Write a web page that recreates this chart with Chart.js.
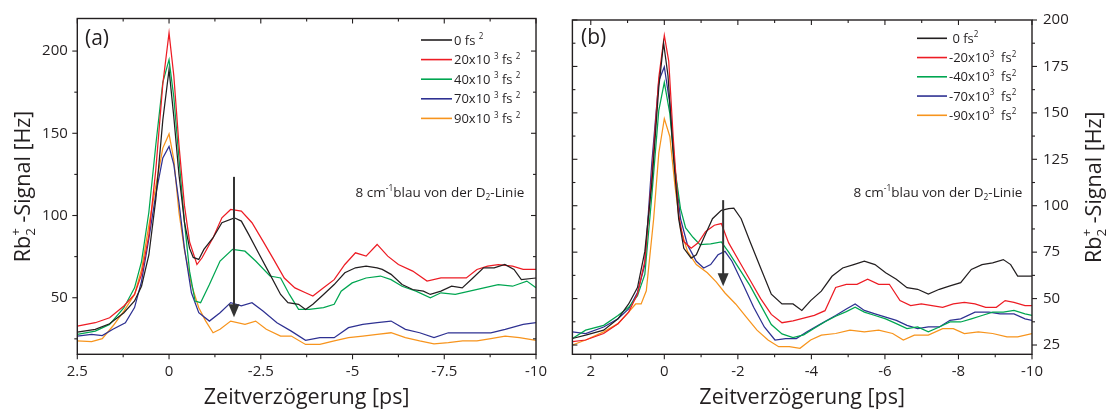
<!DOCTYPE html>
<html><head><meta charset="utf-8">
<script src="https://cdn.jsdelivr.net/npm/chart.js@4.4.0/dist/chart.umd.min.js"></script>
<style>
html,body{margin:0;padding:0;background:#fff;}
#wrap{position:relative;width:1110px;height:412px;overflow:hidden;}
canvas{position:absolute;top:0;width:555px;height:412px;}
#ca{left:0}
#cb{left:555px}
</style></head><body>
<div id="wrap"><canvas id="ca" width="555" height="412"></canvas><canvas id="cb" width="555" height="412"></canvas></div>
<script>
// ---------- Panel (a) data: delay [ps] / signal [Hz] ----------
const aT_black = [2.5,2.01,1.62,1.23,0.94,0.75,0.55,0.36,0.17,0,-0.13,-0.27,-0.42,-0.56,-0.66,-0.81,-0.95,-1.2,-1.44,-1.78,-1.97,-2.17,-2.46,-2.75,-3.04,-3.24,-3.53,-3.72,-3.92,-4.21,-4.5,-4.79,-5.08,-5.37,-5.67,-5.81,-6.05,-6.35,-6.64,-6.93,-7.12,-7.41,-7.7,-7.99,-8.28,-8.57,-8.86,-9.15,-9.4,-9.6,-10];
const aV_black = [29.1,30.8,34.2,40.9,48,57,76,110,158,188.7,160,125,96,80,74.5,73.3,79.4,86.5,95.6,98.6,96.6,88.5,76.3,64.2,52,47,46,42.9,46,52,58,65.2,68.2,69.2,68.2,67.2,64.2,58,55,54,52,54,57,56,62,68.2,68.2,70.2,67.2,61,62];
const aT_red = [2.5,2.01,1.62,1.23,0.94,0.75,0.55,0.36,0.17,0,-0.13,-0.27,-0.42,-0.56,-0.76,-0.9,-1.2,-1.44,-1.68,-1.97,-2.26,-2.56,-2.85,-3.14,-3.43,-3.72,-3.92,-4.21,-4.5,-4.79,-5.08,-5.37,-5.67,-5.96,-6.25,-6.64,-7.03,-7.41,-7.8,-8.1,-8.39,-8.68,-8.97,-9.36,-9.65,-10];
const aV_red = [32.8,34.8,37.8,45,52,64,88,128,180,211,185,143,106,84,70.2,74.3,86.5,98.6,103.7,102.7,95.6,84.4,73.3,62,56,53,51,56,61,70.2,77.3,75.3,82.4,75.3,70.2,66.2,60.1,62,62,62,67.2,69.2,70.2,69.2,67.2,67.2];
const aT_green = [2.5,2.01,1.62,1.23,0.94,0.75,0.55,0.36,0.17,0,-0.13,-0.27,-0.42,-0.56,-0.71,-0.86,-1.1,-1.39,-1.73,-2.07,-2.36,-2.75,-3.04,-3.28,-3.53,-3.82,-4.21,-4.5,-4.69,-4.99,-5.37,-5.76,-6.05,-6.35,-6.73,-7.12,-7.41,-7.8,-8.19,-8.58,-8.97,-9.36,-9.75,-10];
const aV_green = [27.7,29.7,33.8,43.9,56,72,102,143,181,194.8,172,135,96,66,48,47,58,72.3,79.4,78.3,72.3,63.2,62,52,42.9,42.9,44,46,54,59,62,63.2,61,57,54,50,53,52,54,56,58,57,60.1,56];
const aT_blue = [2.5,2.11,1.82,1.53,1.19,0.94,0.75,0.55,0.36,0.17,0,-0.13,-0.27,-0.42,-0.61,-0.81,-1.1,-1.39,-1.68,-1.97,-2.26,-2.56,-2.94,-3.33,-3.72,-4.11,-4.5,-4.89,-5.28,-5.67,-6.05,-6.44,-6.83,-7.22,-7.61,-8.0,-8.39,-8.77,-9.16,-9.65,-10];
const aV_blue = [26.7,27.7,27,30.8,34.8,44,60,86,113,135,142,131,108,80,53,40.9,35.8,40.9,47,45,47,41.9,34.8,29.7,24.1,25.7,25.7,31.8,33.8,34.8,35.8,30.8,28.7,25.7,28.7,28.7,28.7,28.7,30.8,33.8,34.8];
const aT_orange = [2.5,2.11,1.82,1.53,1.23,0.94,0.75,0.55,0.36,0.17,0,-0.13,-0.27,-0.42,-0.61,-0.81,-1.0,-1.2,-1.39,-1.68,-2.07,-2.36,-2.65,-3.04,-3.33,-3.72,-4.11,-4.5,-4.89,-5.28,-5.67,-6.05,-6.44,-6.83,-7.22,-7.61,-8.0,-8.39,-8.77,-9.16,-9.55,-10];
const aV_orange = [23.7,23.3,25.1,32.8,41.9,52,67,94,118,141,149.6,134,102,79,58,43.9,35.8,28.7,30.8,35.8,33.8,35.8,30.8,26.7,26.7,21.6,21.6,23.7,25.7,26.7,27.7,28.7,25.7,23.7,22,22.7,23.7,23.7,25.1,26.7,25.7,24.1];

// ---------- Panel (b) data ----------
const bT_black = [2.5,2.14,1.65,1.26,0.97,0.73,0.53,0.34,0.15,0.02,-0.1,-0.24,-0.39,-0.53,-0.73,-0.87,-1.07,-1.31,-1.55,-1.75,-1.89,-2.09,-2.33,-2.62,-2.91,-3.2,-3.5,-3.74,-3.98,-4.27,-4.56,-4.85,-5.15,-5.44,-5.73,-6.02,-6.31,-6.6,-6.89,-7.18,-7.48,-7.77,-8.06,-8.35,-8.64,-8.93,-9.22,-9.42,-9.61,-10];
const bV_black = [28.5,30.3,33,39.1,47.1,55.9,75.4,112,163.8,187.6,170,128.4,93,77.1,71.8,73.6,82.5,93,97.5,98.4,98.7,93,80.7,66.5,52.4,47.1,47.1,43.6,48.9,54,62,66.5,68.3,70.1,68.3,63.9,60.4,55.9,55,52.4,55,56.8,58.6,65.7,68.3,69.2,71,68.3,62.1,62.1];
const bT_red = [2.5,2.14,1.65,1.26,0.97,0.73,0.53,0.34,0.15,0,-0.12,-0.24,-0.39,-0.53,-0.73,-0.92,-1.12,-1.36,-1.55,-1.75,-2.04,-2.33,-2.62,-2.91,-3.2,-3.5,-3.79,-4.08,-4.37,-4.66,-4.95,-5.24,-5.53,-5.83,-6.12,-6.41,-6.7,-6.99,-7.28,-7.57,-7.86,-8.16,-8.45,-8.74,-9.03,-9.27,-9.51,-9.81,-10];
const bV_red = [26.8,27.7,31.2,36.5,42.7,52.4,70.1,116,169,191.7,177.9,137.3,94.8,80.7,77.1,80,86,89.5,90.4,80,70,60,50,41.5,37,38,39.5,41,43.5,56,57.7,57.7,60.4,57.7,57.7,48.9,46.2,47.1,46.2,45.3,47.1,48,47.1,45.3,45.3,48.9,48,46.2,46.2];
const bT_green = [2.5,2.14,1.65,1.26,0.97,0.73,0.53,0.34,0.15,0,-0.15,-0.29,-0.44,-0.58,-0.78,-0.97,-1.26,-1.55,-1.75,-2.04,-2.33,-2.62,-2.91,-3.2,-3.5,-3.79,-4.08,-4.37,-4.66,-4.95,-5.19,-5.44,-5.73,-6.02,-6.31,-6.6,-6.89,-7.18,-7.48,-7.77,-8.06,-8.35,-8.64,-8.93,-9.22,-9.51,-9.81,-10];
const bV_green = [28.5,33,35.6,40.9,45.3,51.5,63,105.4,151.4,166.4,149.6,119.6,98.4,88,83,79,79.5,80.5,75,66,57,46.5,36,31,29,30.5,34,37.5,40.5,43,45.3,42.7,40.9,39.1,36.5,33.8,34.7,32.1,34.7,37.4,37.4,39.1,40.9,42.7,42.7,43.6,41.8,40.9];
const bT_blue = [2.5,2.14,1.65,1.26,0.97,0.73,0.53,0.34,0.15,0,-0.15,-0.29,-0.44,-0.63,-0.87,-1.07,-1.26,-1.46,-1.65,-1.84,-2.14,-2.43,-2.72,-3.01,-3.3,-3.59,-3.88,-4.27,-4.66,-4.95,-5.19,-5.44,-5.73,-6.02,-6.31,-6.6,-6.89,-7.18,-7.48,-7.77,-8.06,-8.45,-8.83,-9.13,-9.51,-9.81,-10];
const bV_blue = [32.1,31.2,34.7,39.1,44.4,53.3,68.3,123.1,167.3,174.7,154.9,119.6,93,78.9,70.1,66.5,68.3,73.6,75.4,70.1,57.7,45.3,34.7,27.7,28.5,28.5,32.1,36.5,40.9,44.4,47.1,43.6,41.8,40,38.3,35.6,33.8,34.7,34.7,38.3,39.1,42.7,42.7,41.8,41.8,39.1,38.3];
const bT_orange = [2.5,2.14,1.65,1.26,0.97,0.78,0.63,0.49,0.29,0.15,0,-0.15,-0.29,-0.44,-0.63,-0.87,-1.17,-1.41,-1.65,-1.94,-2.23,-2.52,-2.82,-3.11,-3.4,-3.69,-3.98,-4.27,-4.66,-5.05,-5.44,-5.83,-6.21,-6.5,-6.8,-7.18,-7.57,-7.86,-8.16,-8.54,-8.93,-9.32,-9.61,-10];
const bV_orange = [25,27.7,32.1,36.5,42.7,47.1,47.1,54.2,93,128.4,146.9,137.3,110.7,87.8,75.4,68.3,63.9,59,53,47.1,40,33,27.7,24.1,24.1,23.2,27.7,30.3,31.2,33,32.1,33,31.2,27.7,30.3,30.3,33.8,33.8,31.2,32.1,31.2,29.4,29.4,31.2];

// ---------- labels / ticks ----------
const seriesNamesA = ["0 fs ^{2}", "20x10 ^{3} fs ^{2}", "40x10 ^{3} fs ^{2}", "70x10 ^{3} fs ^{2}", "90x10 ^{3} fs ^{2}"];
const seriesNamesB = [" 0 fs^{2}", "-20x10^{3}  fs^{2}", "-40x10^{3}  fs^{2}", "-70x10^{3}  fs^{2}", "-90x10^{3}  fs^{2}"];
const xTicksA = [2.5, 0, -2.5, -5, -7.5, -10];
const xTickLabelsA = ["2.5", "0", "-2.5", "-5", "-7.5", "-10"];
const xMinorA = [1.25, -1.25, -3.75, -6.25, -8.75];
const yTicksA = [50, 100, 150, 200];
const yTickLabelsA = ["50", "100", "150", "200"];
const yMinorA = [25, 75, 125, 175];
const xTicksB = [2, 0, -2, -4, -6, -8, -10];
const xTickLabelsB = ["2", "0", "-2", "-4", "-6", "-8", "-10"];
const xMinorB = [1, -1, -3, -5, -7, -9];
const yTicksB = [25, 50, 75, 100, 125, 150, 175, 200];
const yTickLabelsB = ["25", "50", "75", "100", "125", "150", "175", "200"];
const yMinorB = [37.5, 62.5, 87.5, 112.5, 137.5, 162.5, 187.5];
const xTitle = "Zeitverzögerung [ps]";
const yTitle = "Rb_{2}^{+} -Signal [Hz]";
const noteText = "8 cm^{-1}blau von der D_{2}-Linie";

const COLORS = ['#231f20', '#ed1c24', '#00a651', '#2e3192', '#f7941d'];
const INK = '#231f20';
const FONT = "'Open Sans', 'Noto Sans', 'DejaVu Sans', sans-serif";
Chart.defaults.font.family = FONT;

// ---------- rich text helpers ----------
function parseRich(str){
  return str.split(/(\^\{[^}]*\}|_\{[^}]*\})/).filter(s => s.length).map(s => {
    if (s.startsWith('^{')) return {t: s.slice(2, -1), k: 'sup'};
    if (s.startsWith('_{')) return {t: s.slice(2, -1), k: 'sub'};
    return {t: s, k: 'n'};
  });
}
function layoutRich(ctx, str, size){
  const segs = parseRich(str);
  let x = 0, subStart = 0; const items = [];
  segs.forEach((s, i) => {
    const fs = s.k === 'n' ? size : size * 0.62;
    ctx.font = fs + 'px ' + FONT;
    const w = ctx.measureText(s.t).width;
    const dy = s.k === 'sup' ? -size * 0.42 : (s.k === 'sub' ? size * 0.24 : 0);
    const stacked = s.k === 'sup' && i > 0 && segs[i-1].k === 'sub';
    const x0 = stacked ? subStart : x;
    items.push({t: s.t, x: x0, dy, fs});
    if (s.k === 'sub') subStart = x;
    x = stacked ? Math.max(x, x0 + w) : x0 + w;
  });
  return {items, width: x};
}
function drawRich(ctx, str, x, y, size, align, color){
  const L = layoutRich(ctx, str, size);
  const ox = align === 'center' ? x - L.width / 2 : (align === 'right' ? x - L.width : x);
  ctx.fillStyle = color; ctx.textAlign = 'left'; ctx.textBaseline = 'alphabetic';
  L.items.forEach(it => { ctx.font = it.fs + 'px ' + FONT; ctx.fillText(it.t, ox + it.x, y + it.dy); });
}

// ---------- decoration plugin ----------
const deco = {
  id: 'deco',
  afterDraw(chart, args, o){
    const ctx = chart.ctx, a = chart.chartArea, xs = chart.scales.x, ys = chart.scales.y;
    ctx.save();
    // frame
    ctx.strokeStyle = INK; ctx.lineWidth = 1.4;
    ctx.strokeRect(a.left, a.top, a.right - a.left, a.bottom - a.top);
    // ticks
    ctx.lineWidth = 1.1;
    const tick = (side, vals, len) => {
      vals.forEach(v => {
        ctx.beginPath();
        if (side === 'bottom' || side === 'top') {
          const p = xs.getPixelForValue(v);
          const y0 = side === 'bottom' ? a.bottom : a.top;
          const dir = side === 'bottom' ? 1 : -1;
          ctx.moveTo(p, y0); ctx.lineTo(p, y0 + dir * len);
        } else {
          const p = ys.getPixelForValue(v);
          const x0 = side === 'left' ? a.left : a.right;
          const dir = side === 'left' ? -1 : 1;
          ctx.moveTo(x0, p); ctx.lineTo(x0 + dir * len, p);
        }
        ctx.stroke();
      });
    };
    o.ticks.forEach(t => { tick(t.side, t.major, t.len); tick(t.side, t.minor, t.len * 0.6); });
    // legend
    chart.data.datasets.forEach((ds, i) => {
      const yy = o.legend.y0 + i * o.legend.dy;
      ctx.strokeStyle = ds.borderColor; ctx.lineWidth = 1.6;
      ctx.beginPath(); ctx.moveTo(o.legend.x0, yy); ctx.lineTo(o.legend.x1, yy); ctx.stroke();
      drawRich(ctx, ds.label, o.legend.tx, yy + 4.6, 13, 'left', INK);
    });
    // note
    drawRich(ctx, noteText, o.note.x, o.note.y, 13.5, 'center', INK);
    // panel label
    ctx.font = '21px ' + FONT; ctx.fillStyle = INK; ctx.textAlign = 'left'; ctx.textBaseline = 'middle';
    ctx.fillText(o.panel.text, o.panel.x, o.panel.y);
    // arrow
    const ax = xs.getPixelForValue(o.arrow.t);
    const ay0 = ys.getPixelForValue(o.arrow.from), ay1 = ys.getPixelForValue(o.arrow.to);
    ctx.strokeStyle = '#333'; ctx.fillStyle = '#333'; ctx.lineWidth = 2;
    ctx.beginPath(); ctx.moveTo(ax, ay0); ctx.lineTo(ax, ay1 - 10); ctx.stroke();
    ctx.beginPath(); ctx.moveTo(ax, ay1); ctx.lineTo(ax - 5.5, ay1 - 13); ctx.lineTo(ax + 5.5, ay1 - 13); ctx.closePath(); ctx.fill();
    // axis titles
    drawRich(ctx, xTitle, (a.left + a.right) / 2, 404, 21.5, 'center', INK);
    ctx.save();
    ctx.translate(o.yTitleX, (a.top + a.bottom) / 2);
    ctx.rotate(-Math.PI / 2);
    drawRich(ctx, yTitle, 0, 7.5, 21.5, 'center', INK);
    ctx.restore();
    ctx.restore();
  }
};

function pts(t, v){ return t.map((x, i) => ({x: x, y: v[i]})); }
function makeDatasets(names, series){
  return series.map((s, i) => ({
    label: names[i], data: pts(s[0], s[1]), borderColor: COLORS[i], backgroundColor: COLORS[i],
    borderWidth: 1.25, pointRadius: 0, tension: 0, fill: false
  }));
}
function xScale(ticks, labels){
  return {
    type: 'linear', reverse: true, min: -10, max: 2.5,
    grid: {display: false, drawTicks: false}, border: {display: false},
    afterBuildTicks: s => { s.ticks = ticks.map(v => ({value: v})); },
    afterFit: s => { s.height = 57.7; },
    ticks: {color: INK, font: {size: 15, family: FONT}, padding: 8, maxRotation: 0, autoSkip: false,
            callback: (v, i) => labels[i]}
  };
}
function yScale(pos, min, max, ticks, labels, width, pad){
  return {
    type: 'linear', position: pos, min: min, max: max,
    grid: {display: false, drawTicks: false}, border: {display: false},
    afterBuildTicks: s => { s.ticks = ticks.map(v => ({value: v})); },
    afterFit: s => { s.width = width; },
    ticks: {color: INK, font: {size: 15, family: FONT}, padding: pad, autoSkip: false,
            callback: (v, i) => labels[i]}
  };
}

new Chart(document.getElementById('ca'), {
  type: 'line',
  data: {datasets: makeDatasets(seriesNamesA, [[aT_black, aV_black], [aT_red, aV_red], [aT_green, aV_green], [aT_blue, aV_blue], [aT_orange, aV_orange]])},
  options: {
    responsive: false, animation: false, devicePixelRatio: 1,
    layout: {padding: {left: 0, right: 16.7, top: 16.5, bottom: 0}},
    scales: {x: xScale(xTicksA, xTickLabelsA), y: yScale('left', 15.6, 219.8, yTicksA, yTickLabelsA, 77.3, 9.5)},
    plugins: {
      legend: {display: false}, tooltip: {enabled: false},
      deco: {
        ticks: [
          {side: 'bottom', major: xTicksA, minor: xMinorA, len: 5},
          {side: 'top', major: xTicksA, minor: xMinorA, len: -5},
          {side: 'left', major: yTicksA, minor: yMinorA, len: 5},
          {side: 'right', major: yTicksA, minor: yMinorA, len: -5}
        ],
        legend: {x0: 421, x1: 452, tx: 454, y0: 40, dy: 19.6},
        note: {x: 440, y: 197},
        panel: {text: '(a)', x: 85, y: 39},
        arrow: {t: -1.77, from: 123.5, to: 38.2},
        yTitleX: 22
      }
    }
  },
  plugins: [deco]
});

new Chart(document.getElementById('cb'), {
  type: 'line',
  data: {datasets: makeDatasets(seriesNamesB, [[bT_black, bV_black], [bT_red, bV_red], [bT_green, bV_green], [bT_blue, bV_blue], [bT_orange, bV_orange]])},
  options: {
    responsive: false, animation: false, devicePixelRatio: 1,
    layout: {padding: {left: 17.4, right: 0, top: 16, bottom: 0}},
    scales: {x: xScale(xTicksB, xTickLabelsB), y: yScale('right', 20, 200, yTicksB, yTickLabelsB, 78, 11)},
    plugins: {
      legend: {display: false}, tooltip: {enabled: false},
      deco: {
        ticks: [
          {side: 'bottom', major: xTicksB, minor: xMinorB, len: 5},
          {side: 'top', major: xTicksB, minor: xMinorB, len: -5},
          {side: 'right', major: yTicksB, minor: yMinorB, len: 5},
          {side: 'left', major: yTicksB, minor: yMinorB, len: -5}
        ],
        legend: {x0: 362, x1: 392, tx: 394, y0: 38.3, dy: 19.25},
        note: {x: 383, y: 197},
        panel: {text: '(b)', x: 26, y: 38},
        arrow: {t: -1.6, from: 103, to: 56.7},
        yTitleX: 538
      }
    }
  },
  plugins: [deco]
});
</script>
</body></html>
